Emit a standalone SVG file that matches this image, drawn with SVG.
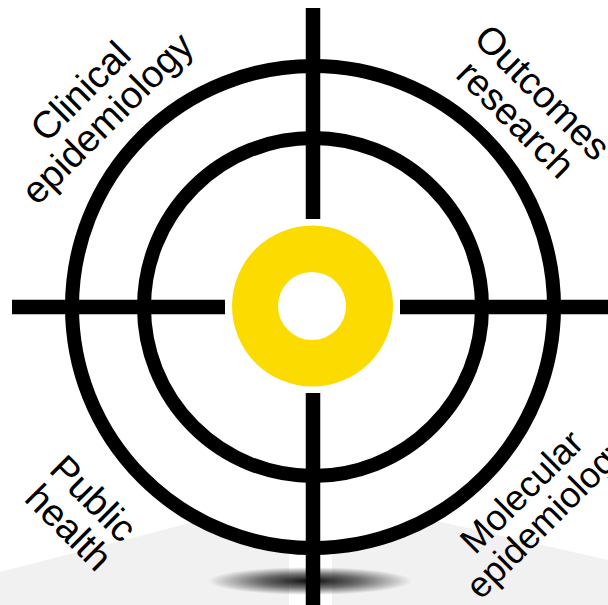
<svg xmlns="http://www.w3.org/2000/svg" width="608" height="605" viewBox="0 0 608 605">
  <style>
    .lbl { font-family: "Liberation Sans", Arial, sans-serif; font-size: 38px; fill: #000; text-anchor: middle; }
    .sm { font-size: 36px; }
    .ring { stroke: #000; stroke-width: 14; }
    .bar { stroke: #000; stroke-width: 14.5; stroke-linecap: butt; }
  </style>
  <defs>
    <radialGradient id="shadow" cx="0.5" cy="0.5" r="0.5">
      <stop offset="0" stop-color="#000" stop-opacity="0.95"/>
      <stop offset="0.5" stop-color="#000" stop-opacity="0.55"/>
      <stop offset="1" stop-color="#000" stop-opacity="0"/>
    </radialGradient>
  </defs>
  <rect width="608" height="605" fill="#fff"/>
  <g id="floor">
    <polygon points="0,572 310,492 608,560 608,605 0,605" fill="#f1f1f1"/>
    <rect x="289" y="520" width="43" height="85" fill="#fff"/>
    <ellipse cx="310" cy="581" rx="102" ry="14" fill="url(#shadow)"/>
  </g>
  <g id="target">
    <circle cx="313" cy="307" r="241" fill="#fff" class="ring"/>
    <circle cx="313" cy="307" r="169" fill="none" class="ring"/>
  </g>
  <g id="connectors">
    <line class="bar" x1="313" y1="8" x2="313" y2="219"/>
    <line class="bar" x1="313" y1="393" x2="313" y2="605"/>
    <line class="bar" x1="12" y1="307" x2="225" y2="307"/>
    <line class="bar" x1="400" y1="307" x2="608" y2="307"/>
  </g>
  <g id="bullseye">
    <circle cx="312.5" cy="306" r="80.5" fill="#fcdb00"/>
    <circle cx="312" cy="306" r="34" fill="#fff"/>
  </g>
  <g id="clinical-epidemiology">
    <text class="lbl" transform="translate(103,114) rotate(-45)"><tspan x="0" y="-19">Clinical</tspan><tspan x="0" y="19">epidemiology</tspan></text>
  </g>
  <g id="outcomes-research">
    <text class="lbl" transform="translate(520,115) rotate(45)"><tspan x="0" y="-19">Outcomes</tspan><tspan x="0" y="19">research</tspan></text>
  </g>
  <g id="public-health">
    <text class="lbl" transform="translate(71,521) rotate(45)"><tspan x="0" y="-19">Public</tspan><tspan x="3" y="19">health</tspan></text>
  </g>
  <g id="molecular-epidemiology">
    <text class="lbl sm" transform="translate(543,513) rotate(-45)"><tspan x="0" y="-18">Molecular</tspan><tspan x="0" y="18">epidemiology</tspan></text>
  </g>
</svg>
